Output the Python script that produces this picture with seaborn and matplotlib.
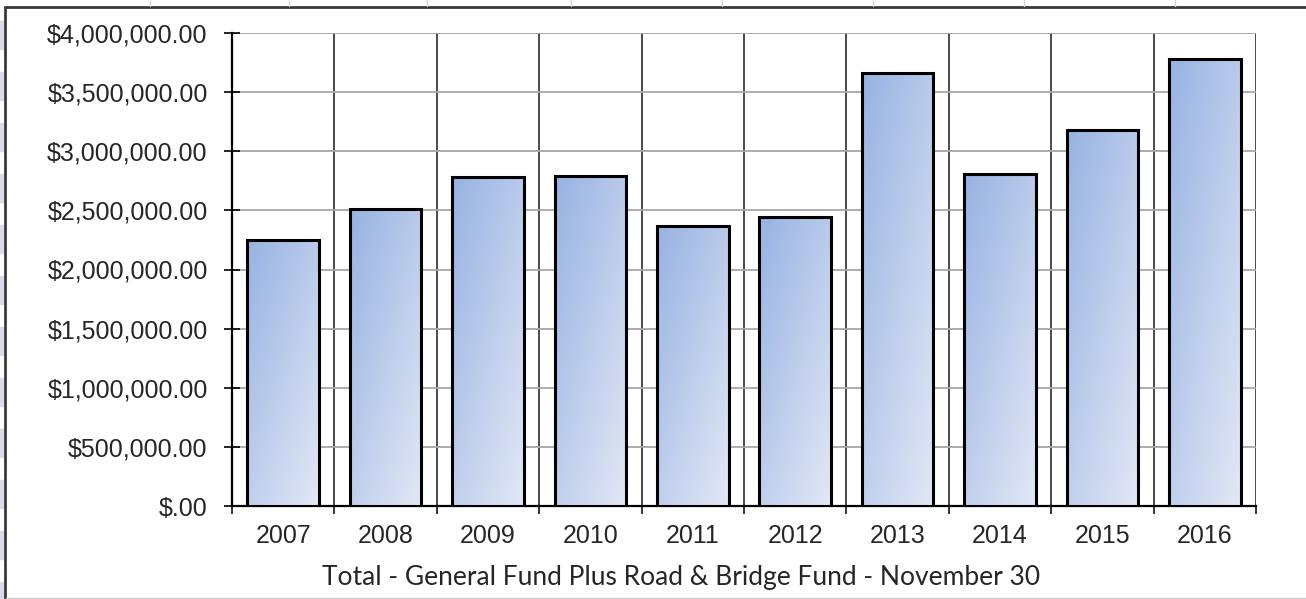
import numpy as np
import matplotlib
matplotlib.use("Agg")
import matplotlib.pyplot as plt
from matplotlib.ticker import FuncFormatter, MultipleLocator
from matplotlib.colors import LinearSegmentedColormap
import seaborn as sns
import pandas as pd

# values
years = ["2007", "2008", "2009", "2010", "2011", "2012", "2013", "2014", "2015", "2016"]
totals = [2250000, 2510000, 2780000, 2790000, 2370000,
          2440000, 3660000, 2810000, 3180000, 3780000]
title = "Total - General Fund Plus Road & Bridge Fund - November 30"

df = pd.DataFrame({"year": years, "total": totals})

sns.set_theme(style="white")
plt.rcParams['font.family'] = ['Liberation Sans', 'DejaVu Sans']

W, H = 1306, 599
fig = plt.figure(figsize=(W / 100, H / 100), dpi=100)
ax = fig.add_axes([232 / W, 1 - 506 / H, (1256 - 232) / W, (506 - 33) / H])

sns.barplot(data=df, x="year", y="total", ax=ax, width=0.7,
            color="#aabfe8", edgecolor="black", linewidth=2.2, zorder=3)

# diagonal gradient fill for every bar (darker top-left, lighter bottom-right)
cmap = LinearSegmentedColormap.from_list("grad", ["#97b2e2", "#e2e8f5"])
gx, gy = np.meshgrid(np.linspace(0, 1, 64), np.linspace(0, 1, 256))
grad = (gx * 0.45 + gy * 0.55)
for p in ax.patches:
    x0, w, h = p.get_x(), p.get_width(), p.get_height()
    im = ax.imshow(grad, extent=(x0, x0 + w, 0, h), origin="upper",
                   cmap=cmap, aspect="auto", zorder=3.5, interpolation="bilinear")
    im.set_clip_path(p)
    p.set_facecolor("none")
    p.set_zorder(4)

ax.set_xlim(-0.5, len(years) - 0.5)
ax.set_ylim(0, 4000000)
ax.yaxis.set_major_locator(MultipleLocator(500000))
ax.yaxis.set_major_formatter(FuncFormatter(
    lambda v, pos: "$.00" if v == 0 else f"${v:,.2f}"))

ax.xaxis.set_minor_locator(MultipleLocator(1, offset=0.5))
ax.grid(axis="y", which="major", color="#a6a6a6", linewidth=1.3, zorder=0)
ax.grid(axis="x", which="minor", color="#1a1a1a", linewidth=1.1, zorder=0)
ax.grid(axis="x", which="major", visible=False)

ax.tick_params(axis="y", which="major", direction="inout", length=11,
               width=1.2, color="black", labelsize=18, pad=12, left=True)
ax.tick_params(axis="x", which="major", length=0, labelsize=18, pad=13)
ax.tick_params(axis="x", which="minor", direction="out", length=6,
               width=1.1, color="black", bottom=True)

for s in ["top", "right"]:
    ax.spines[s].set_visible(False)
for s in ["left", "bottom"]:
    ax.spines[s].set_color("black")
    ax.spines[s].set_linewidth(1.6)

ax.set_ylabel("")
ax.set_xlabel(title, fontsize=19, family=["Lato", "DejaVu Sans"])
ax.xaxis.set_label_coords((681 - 232) / 1024, -(577 - 506) / 473, transform=ax.transAxes)
ax.xaxis.label.set_va("center")

# spreadsheet frame around the chart object
fig.add_artist(plt.Line2D([5 / W, 1], [1 - 7 / H, 1 - 7 / H], color="#3a3a3a",
                          linewidth=2, transform=fig.transFigure))
fig.add_artist(plt.Line2D([5 / W, 5 / W], [1 - 7 / H, 0], color="#3a3a3a",
                          linewidth=2, transform=fig.transFigure))
fig.add_artist(plt.Line2D([6 / W, 1], [1 - 597.5 / H, 1 - 597.5 / H], color="#d0d0d0",
                          linewidth=1, transform=fig.transFigure))
for xs in [150, 289, 427, 571, 722, 873, 1024, 1175]:
    fig.add_artist(plt.Line2D([xs / W, xs / W], [1, 1 - 6 / H], color="#d4d4d4",
                              linewidth=1, transform=fig.transFigure))
for ys in range(21, 599, 51):
    fig.add_artist(plt.Rectangle((0, 1 - (ys + 28) / H), 4 / W, 28 / H,
                                 color="#dcd9ea", transform=fig.transFigure))

fig.savefig("out.png", dpi=100)
